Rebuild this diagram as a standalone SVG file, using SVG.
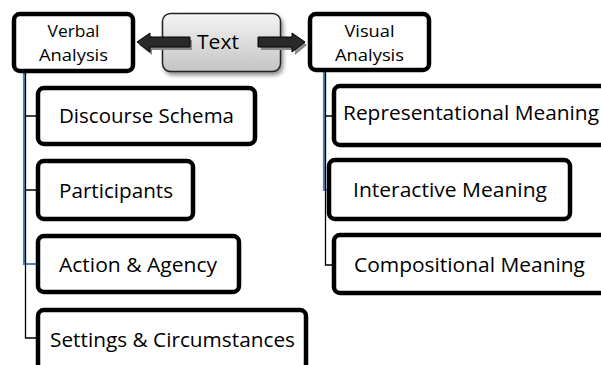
<svg xmlns="http://www.w3.org/2000/svg" width="601" height="365" viewBox="0 0 601 365">
<defs>
<linearGradient id="g" x1="0" y1="0" x2="0" y2="1">
<stop offset="0" stop-color="#f4f4f4"/>
<stop offset="1" stop-color="#c4c4c4"/>
</linearGradient>
<filter id="sh" x="-20%" y="-20%" width="150%" height="150%">
<feGaussianBlur in="SourceAlpha" stdDeviation="2"/>
<feOffset dx="2" dy="3" result="b"/>
<feComponentTransfer><feFuncA type="linear" slope="0.45"/></feComponentTransfer>
<feMerge><feMergeNode/><feMergeNode in="SourceGraphic"/></feMerge>
</filter>
</defs>
<style>
.box{fill:#fff;stroke:#000;stroke-width:4.5}
.t{font-family:"Open Sans","Noto Sans",sans-serif;fill:#000}
.big{font-size:20px}
.small{font-size:16.5px}
.blk{stroke:#000;stroke-width:1.3;fill:none}
.blu{stroke:#4f81bd;stroke-width:2.2;fill:none}
.arr{fill:#2a2a2a;stroke:#000;stroke-width:1}
.ash{fill:#8a8a8a}
</style>
<rect width="601" height="365" fill="#fff"/>
<g id="connectors">
<path class="blu" d="M24,71 V264 H37"/>
<path class="blk" d="M25.5,71 V338 H37 M25.5,116 H37 M25.5,190 H37"/>
<path class="blu" d="M324,70 V190 H328"/>
<path class="blk" d="M325.5,70 V265 H333 M325.5,116 H333"/>
</g>
<g id="text-node">
<rect x="162.5" y="13.5" width="118" height="58" rx="8" fill="url(#g)" stroke="#222" stroke-width="1.5" filter="url(#sh)"/>
<text class="t" x="218" y="49" font-size="19.5" text-anchor="middle" textLength="42" lengthAdjust="spacingAndGlyphs">Text</text>
</g>
<g id="arrow-left">
<polygon class="ash" points="139,45 152,36 152,40 192,40 192,50 152,50 152,55"/>
<polygon class="arr" points="137,42 150,33 150,37 190,37 190,47 150,47 150,52"/>
</g>
<g id="arrow-right">
<polygon class="ash" points="261,40 295,40 295,36 307,45 295,55 295,50 261,50"/>
<polygon class="arr" points="258,37 292,37 292,33 305,42 292,52 292,47 258,47"/>
</g>
<g id="verbal">
<rect class="box" x="14" y="14" width="119" height="57" rx="6"/>
<text class="t small" x="73.5" y="37" text-anchor="middle" textLength="52" lengthAdjust="spacingAndGlyphs">Verbal</text>
<text class="t small" x="73.5" y="61" text-anchor="middle" textLength="69" lengthAdjust="spacingAndGlyphs">Analysis</text>
</g>
<g id="visual">
<rect class="box" x="310" y="14" width="119" height="56" rx="6"/>
<text class="t small" x="369.5" y="37" text-anchor="middle" textLength="50" lengthAdjust="spacingAndGlyphs">Visual</text>
<text class="t small" x="369.5" y="61" text-anchor="middle" textLength="69" lengthAdjust="spacingAndGlyphs">Analysis</text>
</g>
<g id="discourse">
<rect class="box" x="38" y="88" width="217" height="56" rx="6"/>
<text class="t big" x="59" y="123" textLength="175" lengthAdjust="spacingAndGlyphs">Discourse Schema</text>
</g>
<g id="participants">
<rect class="box" x="38" y="161" width="155" height="58" rx="6"/>
<text class="t big" x="59" y="198" textLength="114" lengthAdjust="spacingAndGlyphs">Participants</text>
</g>
<g id="action">
<rect class="box" x="38" y="236" width="201" height="56" rx="6"/>
<text class="t big" x="59" y="272" textLength="158" lengthAdjust="spacingAndGlyphs">Action &amp; Agency</text>
</g>
<g id="settings">
<rect class="box" x="38" y="310" width="268" height="60" rx="6"/>
<text class="t big" x="50" y="347" textLength="245" lengthAdjust="spacingAndGlyphs">Settings &amp; Circumstances</text>
</g>
<g id="representational">
<rect class="box" x="334" y="86" width="300" height="59" rx="6"/>
<text class="t big" x="343" y="120" textLength="256" lengthAdjust="spacingAndGlyphs">Representational Meaning</text>
</g>
<g id="interactive">
<rect class="box" x="329" y="160" width="241" height="59" rx="6"/>
<text class="t big" x="353" y="197" textLength="194" lengthAdjust="spacingAndGlyphs">Interactive Meaning</text>
</g>
<g id="compositional">
<rect class="box" x="334" y="235" width="300" height="58" rx="6"/>
<text class="t big" x="354" y="272" textLength="231" lengthAdjust="spacingAndGlyphs">Compositional Meaning</text>
</g>
</svg>
